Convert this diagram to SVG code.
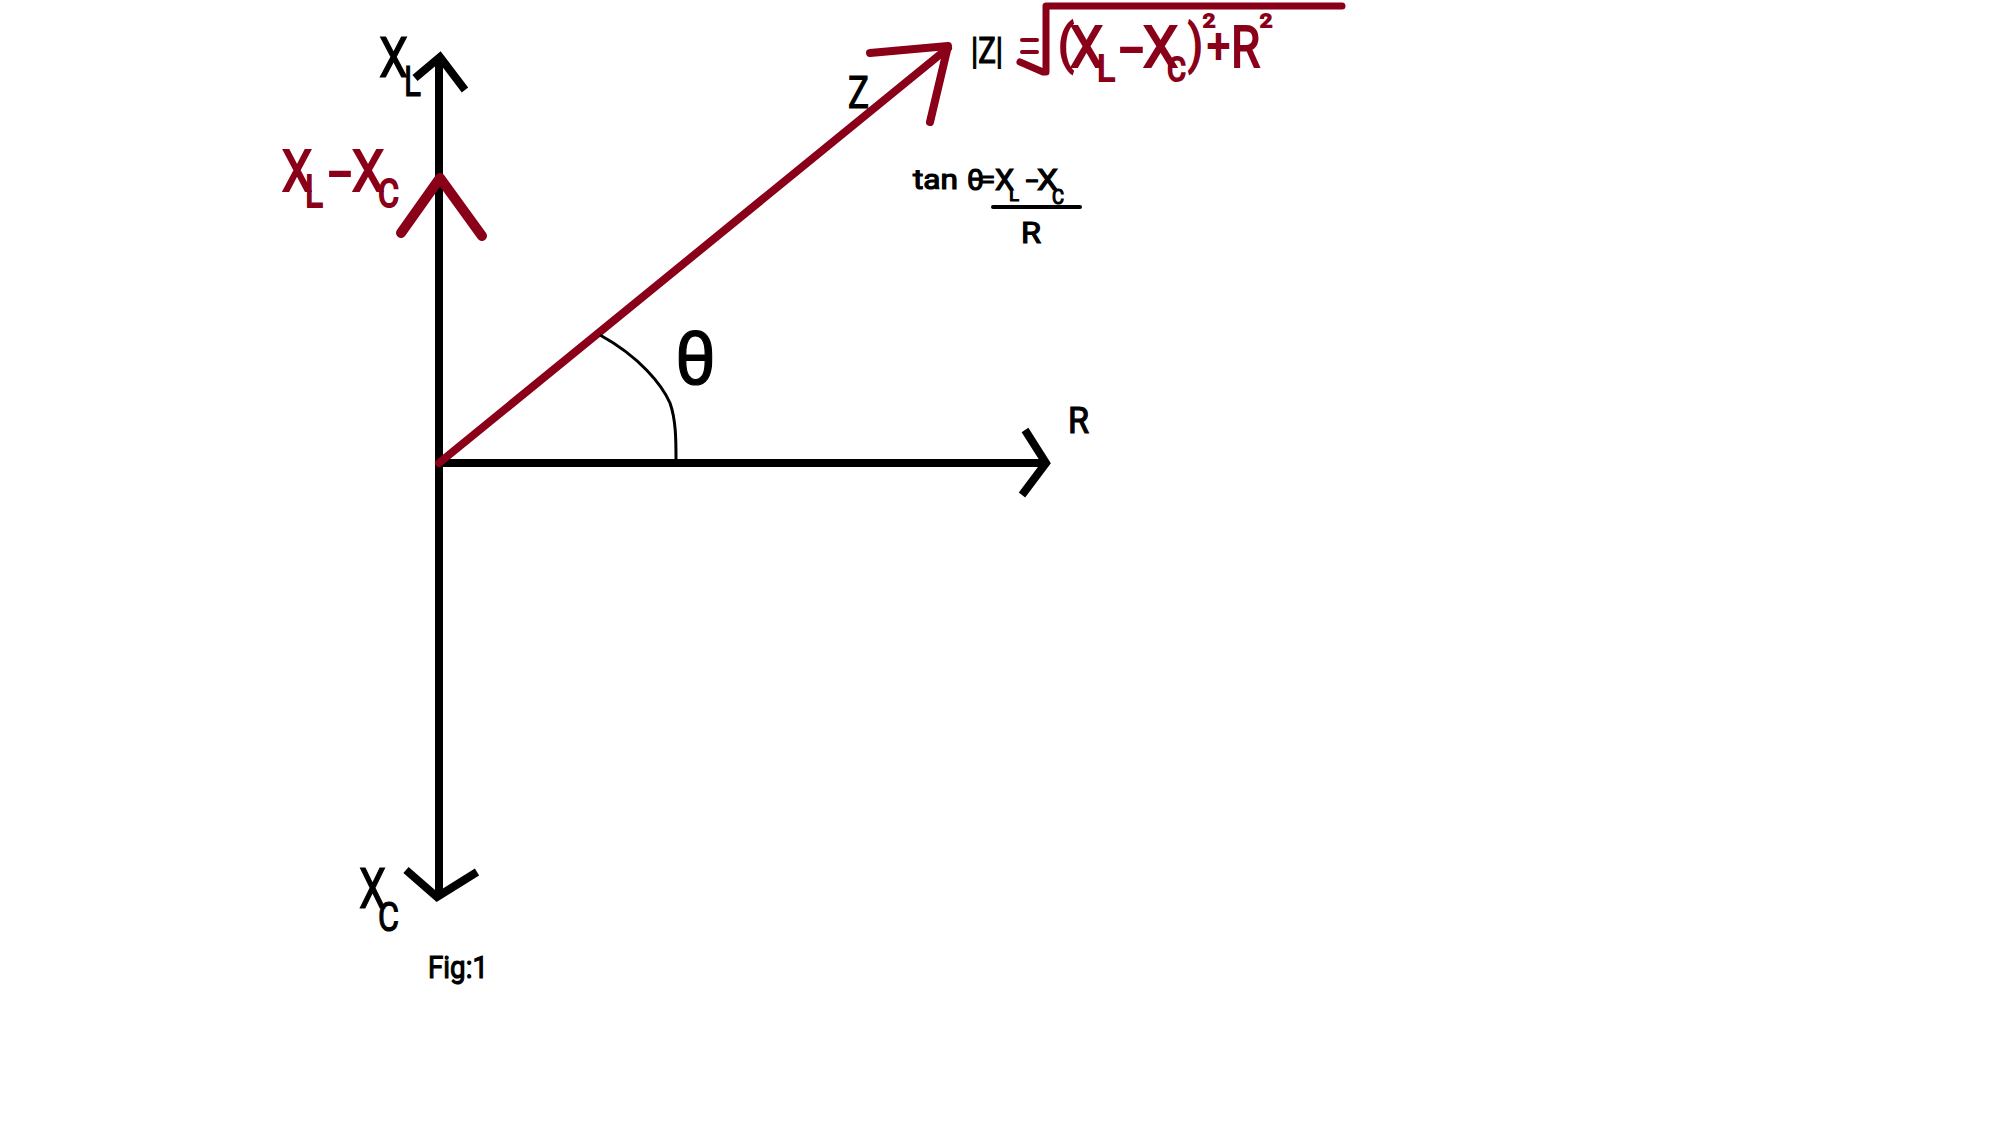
<svg xmlns="http://www.w3.org/2000/svg" width="2000" height="1125" viewBox="0 0 2000 1125">
<style>
.t{font-family:Roboto,"Liberation Sans",sans-serif;fill:#000;stroke:#000;stroke-width:1.2;}
.r{font-family:Roboto,"Liberation Sans",sans-serif;fill:#8a0019;stroke:#8a0019;stroke-width:2;}
.ax{stroke:#000;stroke-width:8;fill:none;stroke-linecap:butt;stroke-linejoin:miter;}
.rd{stroke:#8a0019;fill:none;stroke-linecap:round;stroke-linejoin:round;}
</style>
<rect width="2000" height="1125" fill="#fff"/>
<g id="connectors">
<line class="ax" x1="439" y1="60" x2="439" y2="897"/>
<polyline class="ax" points="415,78 440,57 465,90"/>
<polyline class="ax" points="406,870 437,897 477,872"/>
<line class="ax" x1="437" y1="463" x2="1044" y2="463"/>
<polyline class="ax" points="1025,430 1046,463 1022,495"/>
<line class="rd" stroke-width="8" x1="439" y1="463" x2="948" y2="48"/>
<polyline class="rd" stroke-width="8" points="870,53 948,46 930,122"/>
<polyline class="rd" stroke-width="10" points="401,233 440,178 482,236"/>
<path d="M600,335 C640,357 662,385 670,403 C676,420 676,440 676,460" stroke="#000" stroke-width="3" fill="none"/>
</g>
<g id="node-xl">
<text class="t" x="379" y="77" font-size="56" textLength="29" lengthAdjust="spacingAndGlyphs">X</text>
<text class="t" x="404" y="96" font-size="43" textLength="17" lengthAdjust="spacingAndGlyphs">L</text>
</g>
<g id="node-xl-xc">
<text class="r" x="282" y="191" font-size="57" textLength="30" lengthAdjust="spacingAndGlyphs">X</text>
<text class="r" x="305" y="207" font-size="45" textLength="18" lengthAdjust="spacingAndGlyphs">L</text>
<text class="r" x="329" y="191" font-size="57" textLength="22" lengthAdjust="spacingAndGlyphs">-</text>
<text class="r" x="352" y="191" font-size="57" textLength="32" lengthAdjust="spacingAndGlyphs">X</text>
<text class="r" x="378" y="207" font-size="38" textLength="21" lengthAdjust="spacingAndGlyphs">C</text>
</g>
<g id="node-xc">
<text class="t" x="359" y="908" font-size="56" textLength="27" lengthAdjust="spacingAndGlyphs">X</text>
<text class="t" x="378" y="931" font-size="40" textLength="21" lengthAdjust="spacingAndGlyphs">C</text>
</g>
<g id="node-r">
<text class="t" x="1068" y="433" font-size="37" textLength="21" lengthAdjust="spacingAndGlyphs">R</text>
</g>
<g id="node-theta">
<text class="t" x="675" y="384" font-size="74" textLength="41" lengthAdjust="spacingAndGlyphs">θ</text>
</g>
<g id="node-z">
<text class="t" x="848" y="108" font-size="45" textLength="21" lengthAdjust="spacingAndGlyphs">Z</text>
</g>
<g id="node-impedance">
<text class="t" x="971" y="63" font-size="36" textLength="32" lengthAdjust="spacingAndGlyphs">|Z|</text>
<line class="rd" stroke-width="4" stroke-linecap="butt" x1="1022" y1="40" x2="1037" y2="40"/>
<line class="rd" stroke-width="4" stroke-linecap="butt" x1="1022" y1="52" x2="1037" y2="52"/>
<polyline class="rd" stroke-width="7" stroke-linecap="butt" stroke-linejoin="miter" points="1020,62 1043,72 1046,72 1046,6 1342,6"/>
<text class="r" x="1058" y="62" font-size="52" textLength="16" lengthAdjust="spacingAndGlyphs">(</text>
<text class="r" x="1070" y="67" font-size="58" textLength="33" lengthAdjust="spacingAndGlyphs">X</text>
<text class="r" x="1097" y="81" font-size="36" textLength="18" lengthAdjust="spacingAndGlyphs">L</text>
<text class="r" x="1120" y="67" font-size="58" textLength="23" lengthAdjust="spacingAndGlyphs">-</text>
<text class="r" x="1143" y="67" font-size="58" textLength="35" lengthAdjust="spacingAndGlyphs">X</text>
<text class="r" x="1167" y="81" font-size="33" textLength="19" lengthAdjust="spacingAndGlyphs">C</text>
<text class="r" x="1188" y="62" font-size="52" textLength="15" lengthAdjust="spacingAndGlyphs">)</text>
<text class="r" x="1203" y="27" font-size="19" textLength="12" lengthAdjust="spacingAndGlyphs">2</text>
<text class="r" x="1207" y="62" font-size="48" textLength="23" lengthAdjust="spacingAndGlyphs">+</text>
<text class="r" x="1231" y="67" font-size="58" textLength="29" lengthAdjust="spacingAndGlyphs">R</text>
<text class="r" x="1260" y="27" font-size="19" textLength="12" lengthAdjust="spacingAndGlyphs">2</text>
</g>
<g id="node-tan">
<text class="t" x="913" y="189" font-size="28" textLength="45" lengthAdjust="spacingAndGlyphs">tan</text>
<text class="t" x="967" y="190" font-size="29" textLength="17" lengthAdjust="spacingAndGlyphs">θ</text>
<text class="t" x="981" y="188" font-size="24" textLength="14" lengthAdjust="spacingAndGlyphs">=</text>
<text class="t" x="995" y="190" font-size="29" textLength="19" lengthAdjust="spacingAndGlyphs">X</text>
<text class="t" x="1009" y="201" font-size="19" textLength="10" lengthAdjust="spacingAndGlyphs">L</text>
<text class="t" x="1026" y="190" font-size="29" textLength="12" lengthAdjust="spacingAndGlyphs">-</text>
<text class="t" x="1037" y="190" font-size="29" textLength="21" lengthAdjust="spacingAndGlyphs">X</text>
<text class="t" x="1052" y="204" font-size="20" textLength="12" lengthAdjust="spacingAndGlyphs">C</text>
<line x1="993" y1="207" x2="1080" y2="207" stroke="#000" stroke-width="4" stroke-linecap="round"/>
<text class="t" x="1021" y="243" font-size="30" textLength="20" lengthAdjust="spacingAndGlyphs">R</text>
</g>
<g id="node-fig">
<text class="t" x="428" y="978" font-size="32" textLength="60" lengthAdjust="spacingAndGlyphs">Fig:1</text>
</g>
</svg>
